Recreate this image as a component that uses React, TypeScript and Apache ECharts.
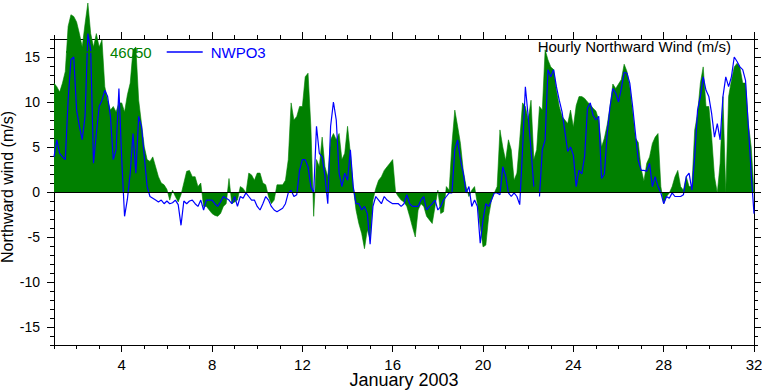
import React, { useEffect, useRef } from "react";
import * as echarts from "echarts";

// Hourly northward wind, January 2003, sampled every 3 hours (day 1.0 .. 32.0)
const STEP_HOURS = 3;

const BUOY_46050: number[] = [
  12.1, 11.7, 11.1, 12.1, 13.4, 18.4, 19.7, 19.5, 18.9, 17.6,
  16.1, 18.7, 21.0, 17.6, 16.1, 17.6, 16.1, 16.9, 11.7, 10.2,
  9.1, 9.5, 8.9, 9.9, 9.9, 8.9, 10.8, 12.1, 15.8, 16.1,
  10.2, 7.6, 5.0, 3.6, 3.4, 3.9, 2.8, 1.7, 1.0, 0.8,
  0.3, -0.9, 0.2, -0.5, -1.1, -0.3, 1.0, 2.3, 2.4, 1.7,
  1.7, 0.6, 1.0, -1.6, -1.6, -2.0, -2.4, -2.6, -2.7, -2.4,
  -1.6, -1.3, 1.5, -1.3, -1.1, -0.9, 0.6, 0.4, -0.1, 2.1,
  1.9, 1.3, 2.1, 2.1, 1.0, 0.8, -0.5, -1.3, -0.9, 0.8,
  0.8, 0.8, 1.3, 3.6, 9.9, 8.0, 8.4, 9.5, 9.5, 12.8,
  13.2, 7.3, -2.7, 3.6, 2.8, 6.1, 2.8, 1.7, 5.8, 6.5,
  5.8, 6.5, 3.6, 4.3, 7.3, 4.3, 0.6, -2.0, -3.5, -4.6,
  -6.3, -4.2, -5.3, -0.9, 0.4, 1.3, 1.7, 2.4, 2.8, 3.2,
  3.6, 0.0, -0.5, -0.9, -1.1, -1.6, -2.7, -3.9, -5.0, -2.0,
  -1.3, -1.6, -2.7, -3.1, -3.5, -1.6, 0.2, -2.4, -2.2, 0.6,
  0.2, 5.4, 9.1, 7.3, 5.4, 2.4, 0.6, -0.5, 0.2, 0.6,
  -1.3, -3.9, -6.1, -5.9, -2.7, -0.9, -0.1, 0.6, 6.9, 5.0,
  3.5, 5.8, 4.7, 1.3, 2.1, 5.8, 9.9, 9.5, 8.0, 10.2,
  3.6, 4.7, 9.5, 9.1, 15.8, 14.7, 13.9, 13.6, 11.3, 9.5,
  8.4, 8.0, 7.6, 9.1, 7.2, 9.6, 10.6, 10.6, 10.4, 10.0,
  9.7, 9.3, 9.0, 8.0, 5.0, 6.0, 7.5, 9.5, 12.0, 11.5,
  12.0, 12.5, 14.2, 13.4, 11.7, 9.0, 6.0, 5.5, 2.6, 1.2,
  3.2, 3.9, 5.4, 6.1, 6.5, 0.6, -1.3, -0.5, -0.1, 0.6,
  1.7, 2.4, 0.6, 0.2, 1.7, 0.6, 0.6, 6.9, 8.7, 12.1,
  13.9, 9.5, 9.5, 6.1, 1.7, -0.1, 3.2, 10.6, -0.1, 10.6,
  12.4, 13.9, 14.3, 13.9, 12.1, 12.1, 7.6, 5.0, 0.0,
];

const NWPO3: (number | null)[] = [
  3.9, 5.8, 4.3, 3.9, 3.6, 10.2, 14.7, 15.0, 9.1, 7.3,
  5.8, 8.4, 17.6, 15.8, 3.2, 6.5, 9.5, 10.2, 11.3, 10.6,
  8.4, 3.6, 4.7, 11.5, 3.6, -2.7, -0.8, 2.1, 6.5, 2.1,
  8.4, 7.3, 3.9, 0.6, -0.5, -0.7, -0.9, -1.1, -0.9, -1.3,
  -1.0, -1.3, -1.2, -0.9, -1.4, -3.7, -1.0, -1.3, -1.0, -0.9,
  -1.3, -1.6, -0.9, -2.0, -0.9, -0.9, -0.9, -1.3, -1.6, -1.1,
  -0.5, -0.7, -0.9, -1.3, -0.5, -1.6, -0.5, -0.7, -0.1, -0.5,
  -0.9, -0.9, -1.6, -2.0, -1.3, -0.5, -0.9, -1.6, -2.0, -2.2,
  -2.0, -1.8, -1.3, -0.1, 0.2, -0.5, -0.3, 2.4, 3.6, 3.6,
  2.8, 0.6, -0.1, 7.3, 4.3, 3.9, 1.7, -1.3, 7.3, 10.0,
  8.0, 2.1, 0.6, 2.1, 1.3, 4.7, 0.6, -1.3, -1.3, -2.0,
  -1.6, -2.4, -5.8, -1.6, -0.5, -0.9, -1.3, -0.5, -0.9, -1.1,
  -1.3, -1.3, -1.3, -1.6, -1.3, -0.3, -1.3, -1.6, -1.6, -1.6,
  -0.9, -0.5, -2.0, -1.6, -1.3, -0.9, -2.0, -1.6, -0.9, -0.5,
  -0.1, -0.1, 4.7, 5.8, 3.6, 2.1, -0.1, 0.6, -1.6, -0.9,
  -1.6, -5.7, -3.1, -1.3, -1.6, -0.9, -0.1, -0.1, -0.3, 2.8,
  1.8, -0.1, -0.5, -0.1, -0.5, -1.4, 4.7, 11.7, 8.4, 4.7,
  0.6, null, -0.5, 4.7, 5.8, 13.6, 12.8, 13.6, 11.7, 10.2,
  8.9, 6.7, 4.5, 5.0, 4.1, 0.6, 2.4, 2.0, 4.0, 9.3,
  9.9, 8.5, 8.0, 8.4, 1.5, 2.0, 6.5, 9.5, 11.5, 11.0,
  10.0, 11.5, 13.3, 13.2, 12.1, 9.5, 6.5, 3.5, 2.4, 2.4,
  2.3, 3.2, 0.6, 1.7, 0.6, -0.1, -1.3, -0.5, -0.7, -0.1,
  -0.5, -0.5, -0.5, -0.3, 1.7, 2.1, 0.2, 3.9, 9.1, 10.6,
  12.8, 11.3, 10.6, 8.7, 6.1, 7.6, 5.8, 10.6, 12.8, 11.7,
  12.8, 15.0, 14.5, 13.9, 13.6, 12.4, 7.3, 2.1, -2.4,
];

const X_MAJOR = [4, 8, 12, 16, 20, 24, 28, 32];
const Y_MAJOR = [-15, -10, -5, 0, 5, 10, 15];
const Y_MINOR = [
  -17, -16, -15, -14, -13, -12, -11, -10, -9, -8, -7, -6, -5, -4, -3, -2, -1,
  0, 1, 2, 3, 4, 5, 6, 7, 8, 9, 10, 11, 12, 13, 14, 15, 16, 17,
];

const SERIES_NAMES = ["46050", "NWPO3"];
const TITLE = "Hourly Northward Wind (m/s)";
const X_NAME = "January 2003";
const Y_NAME = "Northward wind (m/s)";

const GREEN = "#008000";
const BLUE = "#0000ff";
const FONT = '"Liberation Sans", Arial, Helvetica, sans-serif';

export default function App() {
  const ref = useRef<HTMLDivElement>(null);

  useEffect(() => {
    if (!ref.current) return;
    const chart = echarts.init(ref.current, undefined, { renderer: "svg" });

    const toPairs = (arr: (number | null)[]) =>
      arr.map((v, i) => [1 + (i * STEP_HOURS) / 24, v]);

    const xCommon = {
      type: "value" as const,
      min: 1,
      max: 32,
      gridIndex: 0,
      splitLine: { show: false },
    };
    const yCommon = {
      type: "value" as const,
      min: -17,
      max: 17,
      gridIndex: 0,
      splitLine: { show: false },
    };
    const tickStyle = { color: "#000", width: 1 };

    const xAxis = [
      {
        ...xCommon,
        position: "bottom",
        interval: 1,
        axisLine: { show: true, onZero: false, lineStyle: { color: "#000", width: 1 } },
        axisTick: { show: true, length: 4, lineStyle: tickStyle },
        axisLabel: {
          show: true,
          customValues: X_MAJOR,
          margin: 12,
          fontSize: 15,
          fontFamily: FONT,
          color: "#000",
        },
      },
      {
        ...xCommon,
        position: "bottom",
        axisLine: { show: false, onZero: false },
        axisTick: { show: true, length: 7, customValues: X_MAJOR, lineStyle: tickStyle },
        axisLabel: { show: false },
      },
      {
        ...xCommon,
        position: "top",
        interval: 1,
        axisLine: { show: true, onZero: false, lineStyle: { color: "#000", width: 1 } },
        axisTick: { show: true, length: 4, lineStyle: tickStyle },
        axisLabel: { show: false },
      },
      {
        ...xCommon,
        position: "top",
        axisLine: { show: false, onZero: false },
        axisTick: { show: true, length: 7, customValues: X_MAJOR, lineStyle: tickStyle },
        axisLabel: { show: false },
      },
    ];

    const yAxis = [
      {
        ...yCommon,
        position: "left",
        axisLine: { show: true, onZero: false, lineStyle: { color: "#000", width: 1 } },
        axisTick: { show: true, length: 4, customValues: Y_MINOR, lineStyle: tickStyle },
        axisLabel: {
          show: true,
          customValues: Y_MAJOR,
          margin: 14,
          fontSize: 14,
          fontFamily: FONT,
          color: "#000",
        },
      },
      {
        ...yCommon,
        position: "left",
        axisLine: { show: false, onZero: false },
        axisTick: { show: true, length: 7, customValues: Y_MAJOR, lineStyle: tickStyle },
        axisLabel: { show: false },
      },
      {
        ...yCommon,
        position: "right",
        axisLine: { show: true, onZero: false, lineStyle: { color: "#000", width: 1 } },
        axisTick: { show: true, length: 4, customValues: Y_MINOR, lineStyle: tickStyle },
        axisLabel: { show: false },
      },
      {
        ...yCommon,
        position: "right",
        axisLine: { show: false, onZero: false },
        axisTick: { show: true, length: 7, customValues: Y_MAJOR, lineStyle: tickStyle },
        axisLabel: { show: false },
      },
    ];

    chart.setOption({
      animation: false,
      backgroundColor: "#fff",
      textStyle: { fontFamily: FONT },
      grid: {
        left: 54,
        right: 8,
        top: 39,
        bottom: 45,
        containLabel: false,
        outerBoundsMode: "none",
      },
      title: {
        text: TITLE,
        right: 31,
        top: 38,
        padding: 0,
        textStyle: {
          fontSize: 15,
          fontWeight: "normal",
          color: "#000",
          fontFamily: FONT,
          lineHeight: 16,
        },
      },
      legend: {
        left: 66,
        top: 44,
        padding: 0,
        icon: "rect",
        itemWidth: 36,
        itemHeight: 1.5,
        itemGap: 15,
        textStyle: {
          fontSize: 15,
          fontFamily: FONT,
          lineHeight: 16,
          padding: [0, 0, 0, 3],
        },
        data: [
          { name: SERIES_NAMES[0], textStyle: { color: GREEN } },
          { name: SERIES_NAMES[1], textStyle: { color: BLUE } },
        ],
      },
      xAxis,
      yAxis,
      graphic: [
        {
          type: "text",
          x: 404,
          y: 380,
          style: {
            text: X_NAME,
            fill: "#000",
            fontSize: 18,
            fontFamily: FONT,
            align: "center",
            verticalAlign: "middle",
          },
        },
        {
          type: "text",
          x: 7,
          y: 187,
          rotation: Math.PI / 2,
          style: {
            text: Y_NAME,
            fill: "#000",
            fontSize: 16,
            fontFamily: FONT,
            align: "center",
            verticalAlign: "middle",
          },
        },
      ],
      series: [
        {
          name: SERIES_NAMES[0],
          type: "line",
          xAxisIndex: 0,
          yAxisIndex: 0,
          data: toPairs(BUOY_46050),
          showSymbol: false,
          symbol: "none",
          clip: false,
          itemStyle: { color: GREEN },
          lineStyle: { color: GREEN, width: 0.6 },
          areaStyle: { color: GREEN, opacity: 1 },
          z: 2,
        },
        {
          name: SERIES_NAMES[1],
          type: "line",
          xAxisIndex: 0,
          yAxisIndex: 0,
          data: toPairs(NWPO3),
          showSymbol: false,
          symbol: "none",
          clip: false,
          connectNulls: false,
          itemStyle: { color: BLUE },
          lineStyle: { color: BLUE, width: 1.2 },
          z: 3,
          markLine: {
            silent: true,
            symbol: ["none", "none"],
            label: { show: false },
            lineStyle: { color: "#000", width: 1, type: "solid" },
            data: [{ yAxis: 0 }],
          },
        },
      ],
    });

    return () => chart.dispose();
  }, []);

  return (
    <div
      ref={ref}
      style={{ position: "fixed", left: 0, top: 0, width: 762, height: 390, background: "#fff" }}
    />
  );
}
